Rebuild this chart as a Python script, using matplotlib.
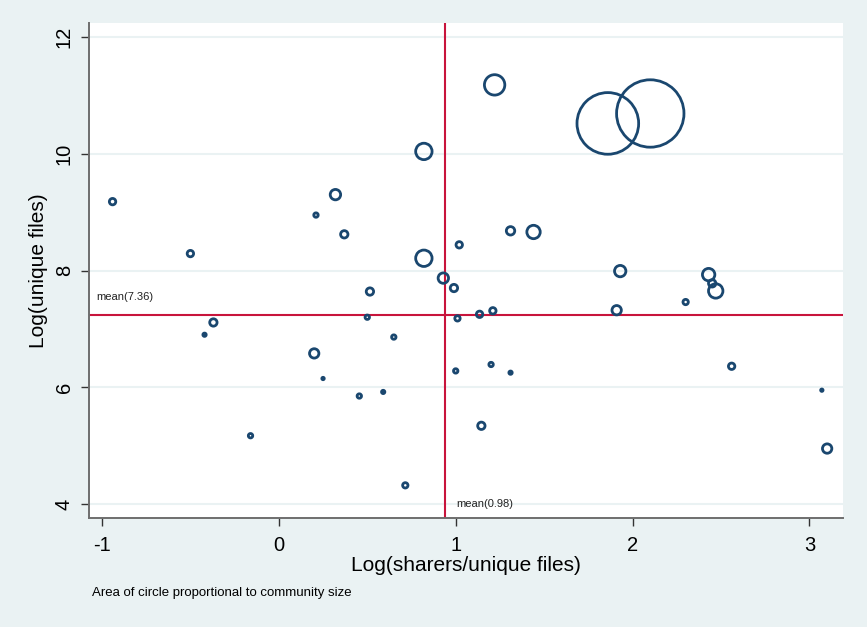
import numpy as np
import matplotlib.pyplot as plt

plt.rcParams['font.family'] = ['Liberation Sans', 'DejaVu Sans']

# log(sharers/unique files), log(unique files), community size (relative area)
ratio = [-0.94, -0.50, -0.42, -0.37, -0.16, 0.21, 0.32, 0.37, 0.82, 0.93,
         0.99, 0.515, 0.50, 0.65, 0.20, 0.25, 0.455, 0.59, 1.01, 1.00,
         1.02, 0.82, 1.22, 1.86, 2.10, 1.31, 1.44, 1.93, 2.43, 2.45,
         2.47, 2.30, 1.91, 1.135, 1.21, 1.20, 1.31, 1.145, 2.56, 0.715,
         3.07, 3.10]
files = [9.18, 8.29, 6.90, 7.11, 5.17, 8.95, 9.30, 8.62, 8.21, 7.87,
         7.70, 7.64, 7.20, 6.86, 6.58, 6.15, 5.85, 5.92, 7.18, 6.28,
         8.44, 10.04, 11.18, 10.52, 10.69, 8.68, 8.66, 7.99, 7.93, 7.78,
         7.65, 7.46, 7.32, 7.25, 7.31, 6.39, 6.25, 5.34, 6.36, 4.32,
         5.95, 4.95]
community = [16, 16, 6, 20, 9, 9, 36, 20, 81, 36,
             20, 20, 9, 9, 30, 4, 9, 6, 12, 9,
             16, 81, 121, 1000, 1190, 25, 56, 42, 49, 20,
             64, 12, 30, 16, 16, 9, 6, 20, 16, 12,
             4, 30]

mean_x, mean_x_label = 0.94, 'mean(0.98)'
mean_y, mean_y_label = 7.23, 'mean(7.36)'

navy = '#1a476f'
red = '#c8143c'
bg = '#eaf2f3'

fig = plt.figure(figsize=(8.67, 6.27), dpi=100, facecolor=bg)
ax = fig.add_axes([0.1027, 0.1738, 0.8697, 0.7895])
ax.set_facecolor('white')

# area ~ community size; outer radius in px, drawn at stroke centre
r_px = np.sqrt(community) - 0.8
s = (2 * r_px * 0.72) ** 2
ax.scatter(ratio, files, s=s, facecolors='none', edgecolors=navy,
           linewidths=2.0, zorder=3)

ax.axvline(mean_x, color=red, lw=1.5, zorder=2)
ax.axhline(mean_y, color=red, lw=1.5, zorder=2)
ax.annotate(mean_y_label, (-1.073, mean_y), xytext=(5, 10), textcoords='offset points',
            fontsize=8, color='#222222', va='bottom')
ax.annotate(mean_x_label, (mean_x, 4.0), xytext=(8, 0), textcoords='offset points',
            fontsize=8, color='#222222', va='center')

ax.set_xlim(-1.073, 3.19)
ax.set_ylim(3.76, 12.24)
ax.set_xticks([-1, 0, 1, 2, 3])
ax.set_xticklabels(['-1', '0', '1', '2', '3'])
ax.set_yticks([4, 6, 8, 10, 12])
ax.yaxis.grid(True, color=bg, lw=1.5, zorder=0)
ax.set_axisbelow(True)

for side in ['top', 'right']:
    ax.spines[side].set_visible(False)
for side in ['left', 'bottom']:
    ax.spines[side].set_color('#6e6e6e')
    ax.spines[side].set_linewidth(1.4)

ax.tick_params(axis='both', length=6, width=1, color='#333333', labelsize=14.5)
ax.tick_params(axis='x', pad=7)
ax.tick_params(axis='y', pad=5)
for lab in ax.get_yticklabels():
    lab.set_rotation(90)
    lab.set_va('center')

ax.set_xlabel('Log(sharers/unique files)', fontsize=15, labelpad=1)
ax.set_ylabel('Log(unique files)', fontsize=15, labelpad=5)

fig.text(92 / 867, 1 - 593 / 627, 'Area of circle proportional to community size',
         fontsize=9.5, va='center', ha='left')

fig.savefig('out.png', dpi=100, facecolor=bg)
